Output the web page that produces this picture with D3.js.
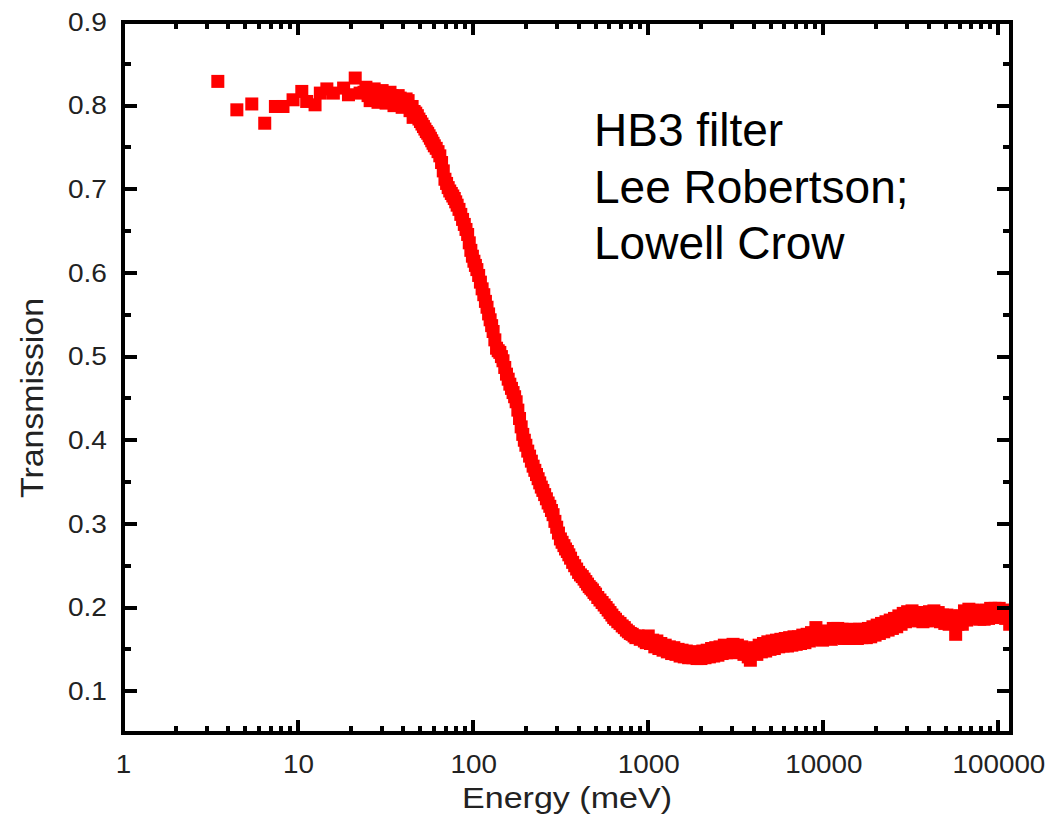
<!DOCTYPE html>
<html>
<head>
<meta charset="utf-8">
<script src="https://cdn.jsdelivr.net/npm/d3@7"></script>
<style>
  body { margin: 0; background: #fff; }
  svg { display: block; }
</style>
</head>
<body>
<div id="chart-area"></div>
<script>

const energy = [
  3.48, 4.47, 5.44, 6.45, 7.42, 8.2, 9.36, 10.5, 11.2, 12.5, 13.4, 14.6, 15.9, 18.2, 19.4, 21.2, 22.6,
  23.8, 24.4, 25.1, 25.8, 26.5, 27.2, 27.9, 28.6, 29.4, 30.2, 31.0, 31.8, 32.7, 33.5, 34.4, 35.3,
  36.3, 37.3, 38.3, 39.3, 40.3, 41.4, 42.5, 43.6, 44.8, 45.4,
  46, 47, 48, 49, 50, 51, 52, 53, 54, 55, 56, 57, 58, 59, 60, 61.5, 63, 64.5, 66, 67.5,
  69, 70.5, 72, 73.5, 75, 76.5, 78, 79.5, 81, 83, 85, 87, 89, 91, 93, 95, 97, 99, 101, 103,
  105, 107.5, 110, 112.5, 115, 117.5, 120, 122.5, 125, 127.5, 130, 133, 136, 139, 142, 145,
  148, 151.5, 155, 158.5, 162, 165.5, 169, 172.5, 176, 180, 184, 188, 192, 196, 200, 205,
  210, 215, 220, 225, 230, 235, 240, 245, 250, 256, 262, 268, 274, 280, 286, 293, 300, 307,
  315, 322, 330, 337, 345, 352, 360, 370, 380, 390, 400, 410,
  420, 430, 440, 450, 460, 470, 480, 490, 500, 515, 530, 545, 560, 575, 590, 605, 620, 635,
  650, 670, 690, 710, 730, 750, 770, 790, 810, 830, 850, 875, 900, 925, 950, 975,
  1000, 1030, 1060, 1090, 1120, 1150, 1180, 1215, 1250, 1285, 1320, 1360, 1400, 1440,
  1480, 1520, 1560, 1605, 1650, 1700, 1750, 1800, 1850, 1900, 1950, 2000, 2050, 2110,
  2170, 2235, 2300, 2365, 2430, 2500, 2570, 2645, 2720, 2800, 2880, 2965, 3050, 3140,
  3230, 3325, 3420, 3520, 3620, 3725, 3830, 3940, 4050, 4170, 4300, 4425, 4550, 4685,
  4820, 4960, 5100, 5250, 5400, 5560, 5720, 5890, 6060, 6240, 6420, 6610, 6800, 7000,
  7200, 7410, 7630, 7850, 8080, 8320, 8560, 8810, 9070, 9340, 9600, 9900, 10200, 10500,
  10800, 11100, 11400, 11750, 12100, 12450, 12800, 13200, 13600, 14000, 14400, 14800,
  15200, 15650, 16100, 16600, 17100, 17600, 18100, 18650, 19200, 19750, 20300, 20900,
  21500, 22150, 22800, 23450, 24100, 24800, 25500, 26250, 27000, 27800, 28600, 29450,
  30300, 31200, 32100, 33050, 34000, 35000, 36000, 37050, 38100, 39250, 40400, 41600,
  42800, 44050, 45300, 46650, 48000, 49400, 50800, 52300, 53800, 55400, 57000, 58700,
  60400, 62200, 64000, 65900, 67800, 69800, 71800, 73900, 76000, 78250, 80500, 82900,
  85300, 87800, 90300, 93000, 95700, 98500, 101000, 104000, 107000, 110000, 113000, 116000
];

const transmission = [
  0.829, 0.795, 0.802, 0.779, 0.799, 0.799, 0.807, 0.817, 0.805, 0.801, 0.815, 0.820, 0.815, 0.821, 0.813, 0.833, 0.815,
  0.816, 0.822, 0.812, 0.806, 0.815, 0.820, 0.810, 0.804, 0.814, 0.818, 0.811, 0.803, 0.808, 0.816, 0.812, 0.800,
  0.806, 0.812, 0.809, 0.798, 0.803, 0.808, 0.806, 0.794, 0.799, 0.786,
  0.793, 0.791, 0.788, 0.784, 0.781, 0.778, 0.775, 0.772, 0.769, 0.767, 0.764, 0.761, 0.758, 0.755, 0.752, 0.749, 0.745, 0.740, 0.732, 0.722,
  0.712, 0.707, 0.702, 0.698, 0.695, 0.692, 0.689, 0.685, 0.681, 0.676, 0.670, 0.664, 0.658, 0.652, 0.646, 0.636, 0.627, 0.620, 0.614, 0.609,
  0.604, 0.597, 0.589, 0.581, 0.574, 0.566, 0.559, 0.551, 0.544, 0.537, 0.530, 0.520, 0.510, 0.507, 0.505, 0.500,
  0.495, 0.487, 0.479, 0.473, 0.467, 0.462, 0.457, 0.452, 0.446, 0.436, 0.426, 0.416, 0.407, 0.400, 0.394, 0.387,
  0.381, 0.375, 0.369, 0.364, 0.359, 0.354, 0.349, 0.344, 0.340, 0.335, 0.330, 0.325, 0.321, 0.316, 0.311, 0.303, 0.296, 0.289,
  0.282, 0.278, 0.274, 0.270, 0.267, 0.263, 0.259, 0.254, 0.250, 0.246, 0.242, 0.239,
  0.237, 0.234, 0.231, 0.228, 0.225, 0.223, 0.221, 0.218, 0.216, 0.212, 0.209, 0.206, 0.203, 0.200, 0.197, 0.194, 0.191, 0.188,
  0.186, 0.183, 0.181, 0.178, 0.176, 0.173, 0.171, 0.169, 0.168, 0.166, 0.164, 0.166, 0.162, 0.163, 0.160, 0.158,
  0.166, 0.157, 0.161, 0.153, 0.160, 0.151, 0.157, 0.149, 0.155, 0.147, 0.153, 0.145, 0.152, 0.144,
  0.150, 0.142, 0.149, 0.141, 0.148, 0.140, 0.147, 0.140, 0.146, 0.139, 0.147, 0.139, 0.148, 0.140,
  0.149, 0.141, 0.151, 0.142, 0.152, 0.143, 0.153, 0.145, 0.155, 0.146, 0.154, 0.147, 0.156, 0.146,
  0.155, 0.147, 0.153, 0.144, 0.150, 0.141, 0.137, 0.146, 0.152, 0.144, 0.155, 0.147, 0.157, 0.148,
  0.159, 0.150, 0.160, 0.151, 0.161, 0.153, 0.162, 0.154, 0.163, 0.154, 0.164, 0.155, 0.165, 0.156,
  0.165, 0.157, 0.167, 0.158, 0.168, 0.160, 0.170, 0.162, 0.176, 0.166, 0.171, 0.161, 0.172, 0.163,
  0.171, 0.162, 0.175, 0.165, 0.175, 0.164, 0.174, 0.163, 0.173, 0.163, 0.174, 0.164,
  0.173, 0.163, 0.174, 0.164, 0.174, 0.164, 0.175, 0.165, 0.177, 0.167, 0.179, 0.169,
  0.181, 0.171, 0.183, 0.173, 0.185, 0.175, 0.187, 0.177, 0.190, 0.180, 0.193, 0.183,
  0.195, 0.185, 0.196, 0.185, 0.194, 0.184, 0.193, 0.183, 0.194, 0.184, 0.195, 0.185,
  0.196, 0.185, 0.194, 0.183, 0.191, 0.181, 0.191, 0.180, 0.190, 0.181, 0.168, 0.180,
  0.190, 0.180, 0.196, 0.185, 0.198, 0.188, 0.197, 0.187, 0.196, 0.186, 0.196, 0.186,
  0.197, 0.187, 0.199, 0.188, 0.199, 0.189, 0.199, 0.189, 0.197, 0.187, 0.191, 0.180
];

const xTicks = [1, 10, 100, 1000, 10000, 100000];
const yTicks = [0.1, 0.2, 0.3, 0.4, 0.5, 0.6, 0.7, 0.8, 0.9];
const yMinorTicks = [0.15, 0.25, 0.35, 0.45, 0.55, 0.65, 0.75, 0.85];
const noteLines = ['HB3 filter', 'Lee Robertson;', 'Lowell Crow'];

const widthSvg = 1048;
const heightSvg = 826;
const margin = { top: 22, right: 37, bottom: 93, left: 123 };
const widthChart = widthSvg - margin.left - margin.right;
const heightChart = heightSvg - margin.top - margin.bottom;
const font = '"Liberation Sans", Arial, sans-serif';
const lineW = 4;

const scaleX = d3.scaleLog()
  .domain([1, 118000])
  .range([0, widthChart]);

const scaleY = d3.scaleLinear()
  .domain([0.05, 0.9])
  .range([heightChart, 0]);

const xMinorTicks = scaleX.ticks().filter(t => !xTicks.includes(t));

const svg = d3.select('#chart-area')
  .append('svg')
    .attr('width', widthSvg)
    .attr('height', heightSvg);

const chart = svg.append('g')
  .attr('transform', `translate(${margin.left}, ${margin.top})`);

chart.append('clipPath')
  .attr('id', 'plot-clip')
  .append('rect')
    .attr('width', widthChart)
    .attr('height', heightChart);

// stretch labels a little, the source picture is wider than the font
const stretch = (sel, k) => {
  sel.each(function () {
    const w = this.getComputedTextLength();
    d3.select(this)
      .attr('textLength', w * k)
      .attr('lengthAdjust', 'spacingAndGlyphs');
  });
};

const size = 13;
chart.append('g')
  .attr('clip-path', 'url(#plot-clip)')
  .selectAll('rect')
  .data(energy.map((e, i) => ({ e, t: transmission[i] })))
  .enter()
  .append('rect')
    .attr('x', d => scaleX(d.e) - size / 2)
    .attr('y', d => scaleY(d.t) - size / 2)
    .attr('width', size)
    .attr('height', size)
    .attr('fill', '#ff0000');

// tick marks as filled bars, pointing inward on all four sides
const ticks = chart.append('g').attr('fill', '#000');

const xMarks = xTicks.map(v => ({ v, len: 13 }))
  .concat(xMinorTicks.map(v => ({ v, len: 7 })));
const yMarks = yTicks.map(v => ({ v, len: 14 }))
  .concat(yMinorTicks.map(v => ({ v, len: 8 })));

[heightChart, 0].forEach(y0 => {
  ticks.selectAll(null)
    .data(xMarks)
    .enter()
    .append('rect')
      .attr('x', d => Math.round(scaleX(d.v)) - lineW / 2)
      .attr('y', d => y0 === 0 ? 0 : y0 - d.len)
      .attr('width', lineW)
      .attr('height', d => d.len);
});

[0, widthChart].forEach(x0 => {
  ticks.selectAll(null)
    .data(yMarks)
    .enter()
    .append('rect')
      .attr('x', d => x0 === 0 ? 0 : x0 - d.len)
      .attr('y', d => Math.round(scaleY(d.v)) - lineW / 2)
      .attr('width', d => d.len)
      .attr('height', lineW);
});

// frame, drawn as a filled ring
const o = lineW / 2;
chart.append('path')
  .attr('fill', '#000')
  .attr('fill-rule', 'evenodd')
  .attr('d', `M${-o},${-o}H${widthChart + o}V${heightChart + o}H${-o}Z` +
    `M${o},${o}V${heightChart - o}H${widthChart - o}V${o}Z`);

const styleAxis = g => {
  g.select('.domain').remove();
  g.selectAll('.tick line').remove();
  g.attr('font-family', font)
    .attr('font-size', 26);
  g.selectAll('text').attr('fill', '#222');
};

// tick labels
const gx = chart.append('g')
  .attr('transform', `translate(0, ${heightChart})`)
  .call(d3.axisBottom(scaleX).tickValues(xTicks).tickFormat(d3.format('d')).tickSize(0))
  .call(styleAxis);
gx.selectAll('text').attr('y', 40).attr('dy', null);
stretch(gx.selectAll('text'), 1.07);

const gy = chart.append('g')
  .call(d3.axisLeft(scaleY).tickValues(yTicks).tickFormat(d3.format('.1f')).tickSize(0).tickPadding(16))
  .call(styleAxis);
stretch(gy.selectAll('text'), 1.08);

const labelX = chart.append('text')
  .text('Energy (meV)')
    .attr('font-family', font)
    .attr('font-size', 30)
    .attr('fill', '#222')
    .attr('text-anchor', 'middle')
    .attr('x', 567 - margin.left)
    .attr('y', heightChart + 75);
labelX.attr('textLength', 210).attr('lengthAdjust', 'spacingAndGlyphs');

const labelY = chart.append('text')
  .text('Transmission')
    .attr('font-family', font)
    .attr('font-size', 31)
    .attr('fill', '#222')
    .attr('text-anchor', 'middle')
    .attr('transform', `translate(${43 - margin.left}, ${398 - margin.top})rotate(-90)`);
labelY.attr('textLength', 200).attr('lengthAdjust', 'spacingAndGlyphs');

const note = svg.append('text')
  .attr('font-family', font)
  .attr('font-size', 46)
  .attr('fill', '#000');

note.selectAll('tspan')
  .data(noteLines)
  .enter()
  .append('tspan')
    .attr('x', 594)
    .attr('y', (d, i) => 146 + i * 56.5)
    .text(d => d);

</script>
</body>
</html>
